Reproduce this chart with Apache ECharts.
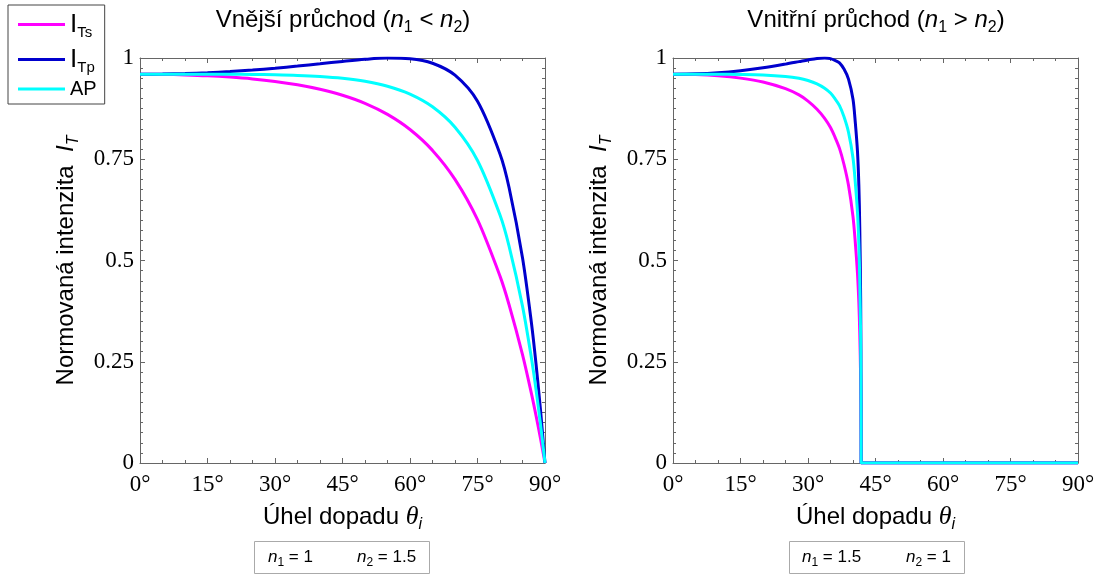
<!DOCTYPE html>
<html>
<head>
<meta charset="utf-8">
<script src="https://cdn.jsdelivr.net/npm/echarts@6/dist/echarts.min.js"></script>
<style>
  html, body { margin: 0; padding: 0; background: #fff; }
  #chart { width: 1102px; height: 576px; }
</style>
</head>
<body>
<div id="chart"></div>
<script>
// Series names and colours
const legendNames = ['ITs', 'ITp', 'AP'];
const lineColors = ['#ff00ff', '#0000cd', '#00ffff'];

// Tick values
const xTicks = [0, 15, 30, 45, 60, 75, 90];
const yTicks = [0, 0.25, 0.5, 0.75, 1];

// External transmission (n1 = 1, n2 = 1.5): angle of incidence in degrees
const outerAngles = [0, 5, 10, 15, 20, 25, 30, 35, 40, 45, 50, 55, 60, 65, 70, 75, 80, 82, 85, 87, 88, 89, 90];
const outerTs = [0.96, 0.9596, 0.9583, 0.9562, 0.9529, 0.9484, 0.9422, 0.9339, 0.9228, 0.9080, 0.8880, 0.8607, 0.8234, 0.7719, 0.7004, 0.6007, 0.4614, 0.3914, 0.2677, 0.1707, 0.1174, 0.0605, 0];
const outerTp = [0.96, 0.9604, 0.9616, 0.9637, 0.9666, 0.9703, 0.9748, 0.9800, 0.9857, 0.9915, 0.9967, 0.9998, 0.9982, 0.9870, 0.9575, 0.8932, 0.7632, 0.6808, 0.5068, 0.3446, 0.2452, 0.1311, 0];
const outerAP = [0.96, 0.96, 0.96, 0.96, 0.9598, 0.9594, 0.9585, 0.9570, 0.9543, 0.9498, 0.9424, 0.9303, 0.9108, 0.8795, 0.8290, 0.7470, 0.6123, 0.5361, 0.3873, 0.2577, 0.1813, 0.0958, 0];

// Internal transmission (n1 = 1.5, n2 = 1)
const innerAngles = [0, 5, 10, 15, 20, 25, 28, 30, 32, 33.7, 35, 36, 37, 38, 39, 40, 40.5, 41, 41.3, 41.5, 41.7, 41.8, 41.81, 90];
const innerTs = [0.96, 0.9591, 0.9561, 0.9503, 0.9408, 0.9243, 0.9088, 0.8936, 0.8735, 0.8510, 0.8282, 0.8045, 0.7769, 0.7370, 0.6856, 0.6082, 0.5461, 0.4674, 0.3956, 0.3217, 0.2076, 0.0690, 0, 0];
const innerTp = [0.96, 0.9609, 0.9637, 0.9687, 0.9757, 0.9849, 0.9911, 0.9953, 0.9990, 1.0, 0.9985, 0.9941, 0.9881, 0.9726, 0.9480, 0.8981, 0.8423, 0.7687, 0.6857, 0.5828, 0.4062, 0.1482, 0, 0];
const innerAP = [0.96, 0.96, 0.9599, 0.9595, 0.9583, 0.9546, 0.9500, 0.9445, 0.9363, 0.9255, 0.9134, 0.8993, 0.8825, 0.8548, 0.8168, 0.7532, 0.6942, 0.6181, 0.5407, 0.4523, 0.3069, 0.1086, 0, 0];

const SANS = 'Liberation Sans';
const SERIF = 'Liberation Serif';
const FRAME = '#666';

const pairs = (xs, ys) => xs.map((x, i) => [x, ys[i]]);

const nameRich = {
  a: { fontFamily: SANS, fontSize: 24, color: '#000', lineHeight: 32 },
  i: { fontFamily: SANS, fontSize: 24, fontStyle: 'italic', color: '#000', lineHeight: 32 },
  th: { fontFamily: SERIF, fontSize: 26, fontStyle: 'italic', color: '#000', lineHeight: 32 },
  s: { fontFamily: SANS, fontSize: 16, fontStyle: 'italic', color: '#000', lineHeight: 16, padding: [16, 0, 0, 0] }
};

function xAxes(gridIndex) {
  const common = {
    gridIndex, type: 'value', min: 0, max: 90, interval: 15,
    axisLine: { onZero: false, lineStyle: { color: FRAME, width: 1 } },
    axisTick: { inside: true, length: 5, lineStyle: { color: FRAME } },
    minorTick: { show: true, splitNumber: 3, length: 3, lineStyle: { color: FRAME } },
    splitLine: { show: false }
  };
  return [
    Object.assign({}, common, {
      position: 'bottom',
      axisLabel: {
        formatter: v => (xTicks.includes(v) ? v + '°' : ''),
        fontFamily: SERIF, fontSize: 23, color: '#000', margin: 10
      },
      name: '{a|Úhel dopadu }{th|θ}{s|i}',
      nameLocation: 'middle', nameGap: 36,
      nameTextStyle: { rich: nameRich }
    }),
    Object.assign({}, common, { position: 'top', axisLabel: { show: false } })
  ];
}

function yAxes(gridIndex) {
  const common = {
    gridIndex, type: 'value', min: 0, max: 1, interval: 0.25,
    axisLine: { onZero: false, lineStyle: { color: FRAME, width: 1 } },
    axisTick: { inside: true, length: 5, lineStyle: { color: FRAME } },
    minorTick: { show: true, splitNumber: 10, length: 3, lineStyle: { color: FRAME } },
    splitLine: { show: false }
  };
  return [
    Object.assign({}, common, {
      position: 'left',
      axisLabel: {
        formatter: v => (yTicks.includes(v) ? String(v) : ''),
        fontFamily: SERIF, fontSize: 23, color: '#000', margin: 6
      },
      name: '{a|Normovaná intenzita  }{i|I}{s|T}',
      nameLocation: 'middle', nameGap: 58, nameRotate: 90,
      nameTextStyle: { rich: nameRich }
    }),
    Object.assign({}, common, { position: 'right', axisLabel: { show: false } })
  ];
}

function panelSeries(xIdx, yIdx, angles, values) {
  return legendNames.map((name, k) => ({
    name, type: 'line', xAxisIndex: xIdx, yAxisIndex: yIdx,
    data: pairs(angles, values[k]),
    showSymbol: false, smooth: 0.3,
    lineStyle: { width: 3, color: lineColors[k] },
    itemStyle: { color: lineColors[k] },
    z: 3 + k
  }));
}

const titleRich = {
  t: { fontFamily: SANS, fontSize: 24, color: '#000', lineHeight: 30 },
  n: { fontFamily: SANS, fontSize: 24, fontStyle: 'italic', color: '#000', lineHeight: 30 },
  s: { fontFamily: SANS, fontSize: 16, color: '#000', lineHeight: 16, padding: [15, 0, 0, 0] }
};

const boxRich = {
  n: { fontFamily: SANS, fontSize: 17, fontStyle: 'italic', color: '#999', lineHeight: 22 },
  t: { fontFamily: SANS, fontSize: 17, color: '#999', lineHeight: 22 },
  s: { fontFamily: SANS, fontSize: 12, color: '#999', lineHeight: 12, padding: [12, 0, 0, 0] }
};

function indexBox(x, left, right, xa, xb) {
  return [
    { type: 'rect', shape: { x: x + 0.5, y: 541.5, width: 175, height: 32 },
      style: { fill: '#fff', stroke: '#aaa', lineWidth: 1 } },
    { type: 'text', x: xa, y: 557, style: { text: left, rich: boxRich, verticalAlign: 'middle' } },
    { type: 'text', x: xb, y: 557, style: { text: right, rich: boxRich, verticalAlign: 'middle' } }
  ];
}

const chart = echarts.init(document.getElementById('chart'), null, { renderer: 'canvas' });

chart.setOption({
  animation: false,
  backgroundColor: '#fff',
  grid: [
    { left: 140, top: 58, width: 405, height: 405 },
    { left: 673, top: 58, width: 405, height: 405 }
  ],
  xAxis: [...xAxes(0), ...xAxes(1)],
  yAxis: [...yAxes(0), ...yAxes(1)],
  legend: {
    data: legendNames,
    orient: 'vertical', left: 8, top: 5,
    padding: [4, 8, 5, 10],
    itemWidth: 47, itemHeight: 3, itemGap: 4,
    icon: 'rect',
    borderColor: '#444', borderWidth: 1,
    formatter: n => ({ ITs: '{i|I}{s|Ts}', ITp: '{i|I}{s|Tp}', AP: '{a|AP}' })[n],
    textStyle: {
      rich: {
        i: { fontFamily: SANS, fontSize: 26, color: '#000', lineHeight: 31 },
        s: { fontFamily: SANS, fontSize: 15, color: '#000', lineHeight: 15, padding: [16, 0, 0, 0] },
        a: { fontFamily: SANS, fontSize: 20, color: '#000', lineHeight: 17 }
      }
    }
  },
  graphic: [
    { type: 'text', x: 343, y: 20,
      style: { text: '{t|Vnější průchod (}{n|n}{s|1}{t| < }{n|n}{s|2}{t|)}', rich: titleRich, align: 'center', verticalAlign: 'middle' } },
    { type: 'text', x: 876, y: 20,
      style: { text: '{t|Vnitřní průchod (}{n|n}{s|1}{t| > }{n|n}{s|2}{t|)}', rich: titleRich, align: 'center', verticalAlign: 'middle' } },
    ...indexBox(254, '{n|n}{s|1}{t| = 1}', '{n|n}{s|2}{t| = 1.5}', 268, 357),
    ...indexBox(789, '{n|n}{s|1}{t| = 1.5}', '{n|n}{s|2}{t| = 1}', 802, 906)
  ],
  series: [
    ...panelSeries(0, 0, outerAngles, [outerTs, outerTp, outerAP]),
    ...panelSeries(2, 2, innerAngles, [innerTs, innerTp, innerAP])
  ]
});
</script>
</body>
</html>
